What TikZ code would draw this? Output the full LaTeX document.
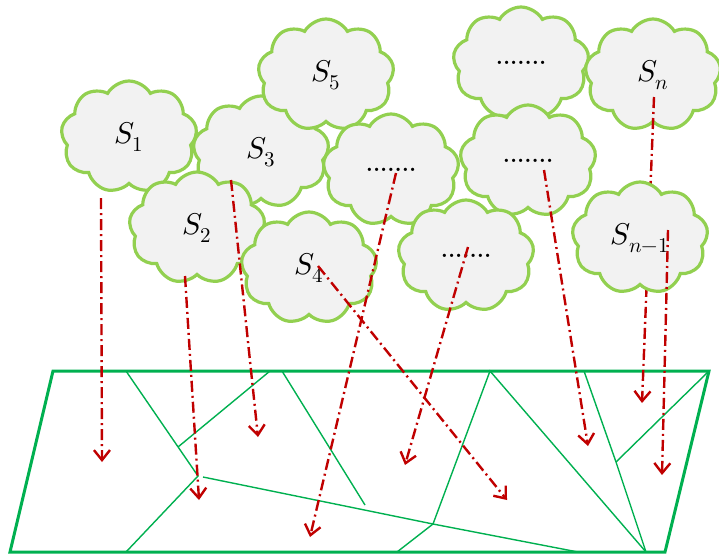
\documentclass[tikz,border=0pt]{standalone}
\usepackage{unicode-math}
\setmathfont{Latin Modern Math}
\usetikzlibrary{shapes.symbols,arrows.meta}

\definecolor{cloudgreen}{HTML}{92D050}
\definecolor{cloudgray}{HTML}{F2F2F2}
\definecolor{meshgreen}{HTML}{00B050}
\definecolor{rayred}{HTML}{C00000}

\tikzset{
	sensor/.style={cloud, cloud puffs=9, cloud puff arc=120, aspect=1.2, cloud ignores aspect,
		draw=cloudgreen, fill=cloudgray, line width=3.2pt, minimum width=136pt, minimum height=112pt,
		inner sep=0pt, font=\fontsize{30}{32}\selectfont},
	moresensor/.style={sensor, font=\fontsize{23}{25}\selectfont\bfseries},
	ray/.style={rayred, line width=2.4pt, dash pattern=on 11pt off 4pt on 2pt off 4pt,
		-{Straight Barb[length=10pt,width=16pt]}},
	mesh/.style={meshgreen, line width=1.4pt},
	border/.style={meshgreen, line width=3pt, line join=miter}
}

\begin{document}
\begin{tikzpicture}[x=1pt, y=-1pt]
\useasboundingbox (0,0) rectangle (719,555);

% Sensing region
\coordinate (tl) at (53,371);
\coordinate (tr) at (709,371);
\coordinate (br) at (665,552);
\coordinate (bl) at (10,552);

% Mesh points
\coordinate (m1) at (126,371);
\coordinate (m2) at (270,371);
\coordinate (m3) at (282,371);
\coordinate (m4) at (490,371);
\coordinate (m5) at (584,371);
\coordinate (p1) at (198,476);
\coordinate (p2) at (178,447);
\coordinate (p3) at (203,477);
\coordinate (p4) at (433,524);
\coordinate (p5) at (365,505);
\coordinate (p6) at (616,462);
\coordinate (b1) at (126,552);
\coordinate (b2) at (397,552);
\coordinate (b3) at (578,552);
\coordinate (b4) at (646,552);

% Mesh
\draw[mesh] (m1) -- (p1) -- (b1);
\draw[mesh] (m2) -- (p2);
\draw[mesh] (p3) -- (p4) -- (b3);
\draw[mesh] (m3) -- (p5);
\draw[mesh] (p4) -- (b2);
\draw[mesh] (p4) -- (m4) -- (b4);
\draw[mesh] (m5) -- (p6) -- (b4);
\draw[mesh] (p6) -- (tr);
\draw[border] (tl) -- (tr) -- (br) -- (bl) -- cycle;

% Sensors
\node[sensor] (s1) at (129,137) {$S_1$};
\node[sensor] (s3) at (261,152) {$S_3$};
\node[sensor] (s2) at (197,228) {$S_2$};
\node[sensor] (s5) at (326,75) {$S_5$};
\node[moresensor] (d1) at (391,170) {.......};
\node[sensor] (s4) at (309,268) {$S_4$};
\node[moresensor] (d3) at (521,63) {.......};
\node[moresensor] (d4) at (528,161) {.......};
\node[moresensor] (d2) at (466,256) {.......};
\node[sensor] (sn) at (653,75) {$S_n$};

% Ray of S_n (behind S_{n-1})
\coordinate (r8a) at (654,97);
\coordinate (r8b) at (642,403);
\draw[ray] (r8a) -- (r8b);

\node[sensor] (snm) at (640,238) {$S_{n-1}$};

% Rays
\coordinate (r1a) at (101,198);
\coordinate (r1b) at (102,462);
\coordinate (r2a) at (185,276);
\coordinate (r2b) at (199,500);
\coordinate (r3a) at (231,180);
\coordinate (r3b) at (258,437);
\coordinate (r4a) at (318,266);
\coordinate (r4b) at (507,500);
\coordinate (r5a) at (396,173);
\coordinate (r5b) at (310,537);
\coordinate (r6a) at (468,247);
\coordinate (r6b) at (405,465);
\coordinate (r7a) at (544,170);
\coordinate (r7b) at (588,446);
\coordinate (r9a) at (668,230);
\coordinate (r9b) at (662,475);
\foreach \i in {1,2,3,4,5,6,7,9}
	\draw[ray] (r\i a) -- (r\i b);
\end{tikzpicture}
\end{document}
